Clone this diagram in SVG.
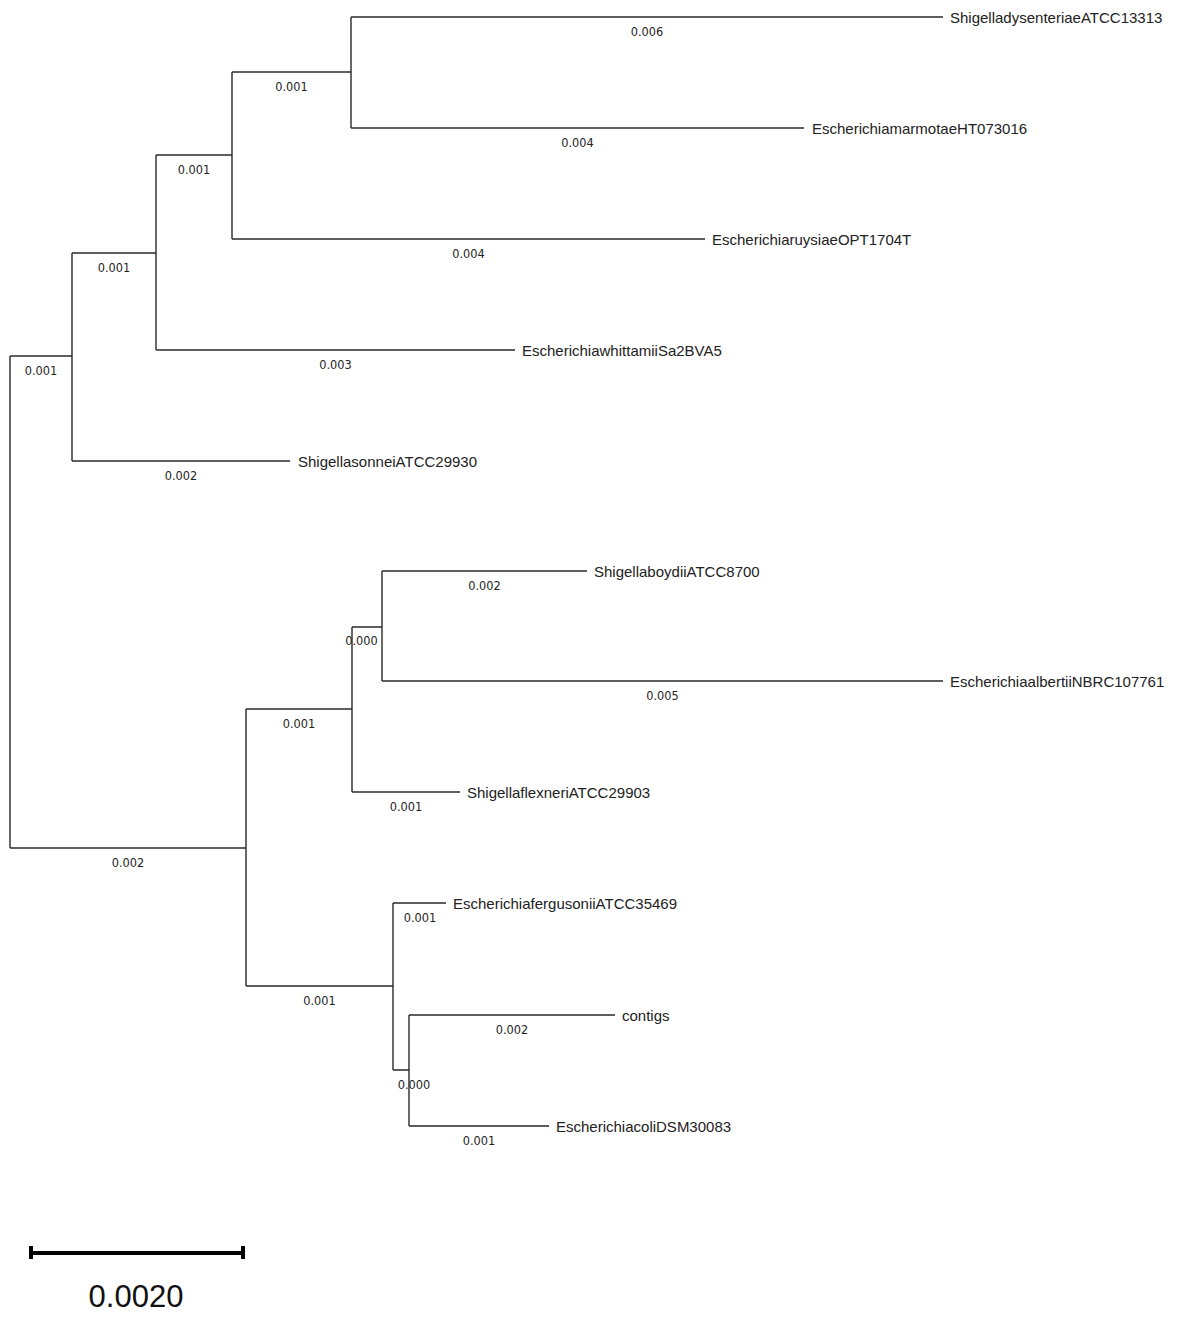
<svg xmlns="http://www.w3.org/2000/svg" width="1189" height="1321" viewBox="0 0 1189 1321">
<style>
.br{fill:none;stroke:#2a2a2a;stroke-width:1.4}
.leaf{font-family:"Liberation Sans",Arial,sans-serif;font-size:15px;fill:#222}
.bl{font-family:"DejaVu Sans Condensed","DejaVu Sans",sans-serif;font-stretch:condensed;font-size:12.6px;fill:#222;text-anchor:middle}
.scale{font-family:"Liberation Sans",Arial,sans-serif;font-size:31px;fill:#111;text-anchor:middle}
</style>
<rect width="1189" height="1321" fill="#fff"/>
<g id="connectors">
<path class="br" d="M10,356V848M10,356H72M10,848H246"/>
<path class="br" d="M72,253V461M72,253H156M72,461H290"/>
<path class="br" d="M156,155V350M156,155H232M156,350H515"/>
<path class="br" d="M232,72V239M232,72H351M232,239H705"/>
<path class="br" d="M351,17V128M351,17H943M351,128H804"/>
<path class="br" d="M246,709V986M246,709H352M246,986H393"/>
<path class="br" d="M352,627V792M352,627H382M352,792H460"/>
<path class="br" d="M382,571V681M382,571H587M382,681H943"/>
<path class="br" d="M393,903V1070M393,903H446M393,1070H409"/>
<path class="br" d="M409,1015V1126M409,1015H615M409,1126H549"/>
</g>
<g id="branch-lengths">
<text class="bl" x="41" y="375">0.001</text>
<text class="bl" x="128" y="867">0.002</text>
<text class="bl" x="114" y="272">0.001</text>
<text class="bl" x="181" y="480">0.002</text>
<text class="bl" x="194" y="174">0.001</text>
<text class="bl" x="335.5" y="369">0.003</text>
<text class="bl" x="291.5" y="91">0.001</text>
<text class="bl" x="468.5" y="258">0.004</text>
<text class="bl" x="647" y="36">0.006</text>
<text class="bl" x="577.5" y="147">0.004</text>
<text class="bl" x="299" y="728">0.001</text>
<text class="bl" x="319.5" y="1005">0.001</text>
<text class="bl" x="361.5" y="645">0.000</text>
<text class="bl" x="406" y="811">0.001</text>
<text class="bl" x="484.5" y="590">0.002</text>
<text class="bl" x="662.5" y="700">0.005</text>
<text class="bl" x="420" y="922">0.001</text>
<text class="bl" x="414" y="1088.5">0.000</text>
<text class="bl" x="512" y="1033.5">0.002</text>
<text class="bl" x="479" y="1144.5">0.001</text>
</g>
<g id="leaf-dysenteriae"><text class="leaf" x="950" y="23">ShigelladysenteriaeATCC13313</text></g>
<g id="leaf-marmotae"><text class="leaf" x="812" y="134">EscherichiamarmotaeHT073016</text></g>
<g id="leaf-ruysiae"><text class="leaf" x="712" y="245">EscherichiaruysiaeOPT1704T</text></g>
<g id="leaf-whittamii"><text class="leaf" x="522" y="356">EscherichiawhittamiiSa2BVA5</text></g>
<g id="leaf-sonnei"><text class="leaf" x="298" y="467">ShigellasonneiATCC29930</text></g>
<g id="leaf-boydii"><text class="leaf" x="594" y="577">ShigellaboydiiATCC8700</text></g>
<g id="leaf-albertii"><text class="leaf" x="950" y="687">EscherichiaalbertiiNBRC107761</text></g>
<g id="leaf-flexneri"><text class="leaf" x="467" y="798">ShigellaflexneriATCC29903</text></g>
<g id="leaf-fergusonii"><text class="leaf" x="453" y="909">EscherichiafergusoniiATCC35469</text></g>
<g id="leaf-contigs"><text class="leaf" x="622" y="1021">contigs</text></g>
<g id="leaf-coli"><text class="leaf" x="556" y="1132">EscherichiacoliDSM30083</text></g>
<g id="scale-bar">
<path d="M31,1253H243" stroke="#000" stroke-width="4"/>
<rect x="29" y="1246" width="4" height="13" fill="#000"/>
<rect x="241" y="1246" width="4" height="13" fill="#000"/>
<text class="scale" x="136" y="1307">0.0020</text>
</g>
</svg>
